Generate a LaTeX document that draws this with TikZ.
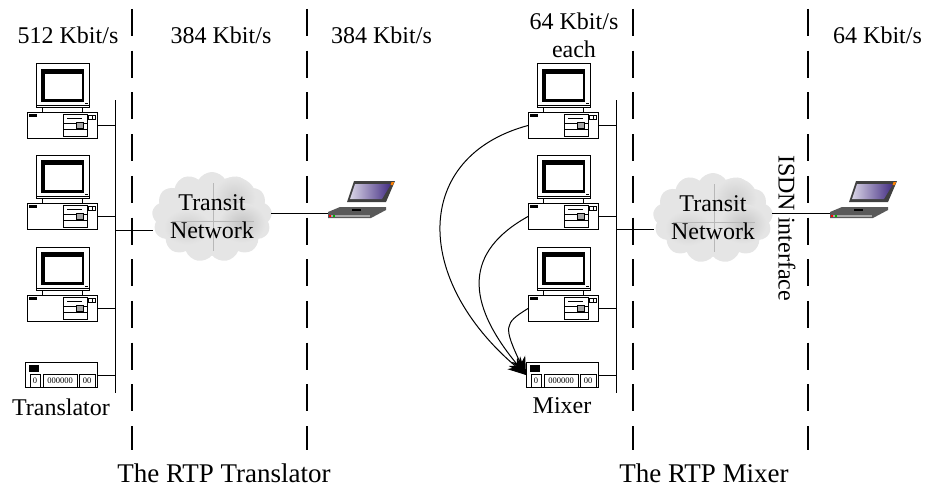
\documentclass[tikz,border=0pt]{standalone}
\usepackage{fontspec}
\setmainfont{Liberation Serif}
\usetikzlibrary{arrows.meta, shapes.symbols}

\tikzset{
  lbl/.style={font=\fontsize{24}{28}\selectfont, align=center, inner sep=0pt},
  caption/.style={font=\fontsize{27}{30}\selectfont, inner sep=0pt},
  digit/.style={font=\fontsize{8.5}{9}\selectfont, inner sep=0pt},
  box/.style={draw, fill=white, line width=1pt, minimum width=70pt, minimum height=26pt, inner sep=0pt},
  wire/.style={line width=1pt},
  sep/.style={line width=2pt, dash pattern=on 27pt off 14.7pt},
  flow/.style={line width=1pt, -{Stealth[length=18pt,width=15pt]}}
}
\definecolor{screenblue}{RGB}{66,44,130}

% desktop machine, #2 #3 = upper left corner of the case
\newcommand{\desktop}[3]{
\begin{scope}[shift={(#2,#3)}]
\draw[line width=1pt, fill=white] (9,-48) rectangle (62,-5);
\fill (13.5,-43) rectangle (57,-10);
\fill[white] (17.5,-38) rectangle (54.5,-13);
\fill (57.5,-9) rectangle (60.5,-8);
\draw[line width=0.6pt] (9,-6.5) -- (62,-6.5);
\draw[line width=1pt] (15,-5) -- (15,0) (55,-5) -- (55,0);
\node[box, anchor=north west] (#1) at (0,0) {};
\fill (2,2) rectangle (10,5);
\draw[line width=0.7pt] (36,2) rectangle (60,24);
\draw[line width=0.7pt] (36,11) -- (60,11) (36,17) -- (60,17);
\draw[line width=1.3pt] (40,6.5) -- (55,6.5);
\draw[line width=0.7pt, fill=black!35] (49,10) rectangle (56,16);
\draw[line width=0.7pt] (61.5,3) rectangle (68,7);
\draw[line width=0.7pt] (65,3) -- (65,7);
\end{scope}
}

% rack unit, #2 #3 = upper left corner
\newcommand{\rackunit}[3]{
\begin{scope}[shift={(#2,#3)}]
\node[box, minimum width=72pt, minimum height=25pt, anchor=north west] (#1) at (0,0) {};
\fill (4,3) rectangle (14,10);
\draw[line width=0.7pt] (5,12) rectangle (15,25);
\draw[line width=0.7pt] (18,12) rectangle (52,25);
\draw[line width=0.7pt] (54,12) rectangle (70,25);
\node[digit] at (10,19) {0};
\node[digit] at (35,19) {000000};
\node[digit] at (62,19) {00};
\end{scope}
}

% notebook, #2 #3 = upper left corner
\newcommand{\notebook}[3]{
\begin{scope}[shift={(#2,#3)}]
\node[inner sep=0pt, minimum size=0pt] (#1) at (2,33) {};
\fill[black!75] (28,1) -- (69,1) -- (60,22) -- (21,22) -- cycle;
\shade[left color=white!80!screenblue, right color=screenblue] (29,4) -- (65,4) -- (56,19) -- (24,19) -- cycle;
\fill[orange] (65.5,2) -- (68,2) -- (67,5) -- (64.5,5) -- cycle;
\fill[black!65] (14,27) -- (60,27) -- (60,30) -- (45,38) -- (2,38) -- (2,32) -- cycle;
\fill[black!35] (3,34.5) -- (44,34.5) -- (44,37) -- (3,37) -- cycle;
\fill[red] (3,35) rectangle (4.5,36.5);
\fill[green!70!black] (7,35) rectangle (8.5,36.5);
\fill (26,29) rectangle (35,31);
\end{scope}
}

% gray cloud with its text, #2 #3 = centre
\newcommand{\transit}[3]{
\node[cloud, cloud puffs=13, cloud puff arc=120, aspect=1.3, minimum width=120pt, minimum height=90pt,
  inner sep=0pt, fill=black!10] (#1) at (#2,#3) {};
\shade[inner color=black!19, outer color=black!10] (#2+22,#3-20) ellipse (22 and 20);
\shade[inner color=black!23, outer color=black!10] (#2+30,#3+6) ellipse (24 and 20);
\shade[inner color=black!19, outer color=black!10] (#2-25,#3+10) ellipse (24 and 18);
\draw[black!28, line width=0.4pt] (#2+1,#3-34) -- (#2+1,#3+34) (#2-40,#3+4) -- (#2+42,#3+4);
\node[lbl] (#1text) at (#2,#3) {Transit\\Network};
}

\begin{document}
\begin{tikzpicture}[x=1pt, y=-1pt]
\useasboundingbox (0,0) rectangle (926,487);

% separators
\foreach \xsep in {132, 307, 633, 808}
  \draw[sep] (\xsep,9) -- (\xsep,450);

% translator side
\coordinate (busAtop) at (115,100);
\coordinate (busAend) at (115,393);
\draw[wire] (busAtop) -- (busAend);
\desktop{pcA}{27}{112}
\desktop{pcB}{27}{203}
\desktop{pcC}{27}{295}
\rackunit{translator}{25}{362}
\transit{cloudA}{212}{217}
\notebook{lapA}{326}{180}
\foreach \nd in {pcA, pcB, pcC, translator}
  \draw[wire] (\nd.east) -- (\nd.east -| busAtop);
\coordinate (tapA) at (115,230);
\draw[wire] (tapA) -- (tapA -| cloudA.west);
\draw[wire] (lapA) -- (lapA -| cloudA.east);

% mixer side
\coordinate (busBtop) at (616,100);
\coordinate (busBend) at (616,393);
\draw[wire] (busBtop) -- (busBend);
\desktop{pcD}{528}{112}
\desktop{pcE}{528}{203}
\desktop{pcF}{528}{295}
\rackunit{mixer}{526}{362}
\transit{cloudB}{713}{218}
\notebook{lapB}{828}{180}
\foreach \nd in {pcD, pcE, pcF, mixer}
  \draw[wire] (\nd.east) -- (\nd.east -| busBtop);
\coordinate (tapB) at (616,229);
\draw[wire] (tapB) -- (tapB -| cloudB.west);
\draw[wire] (lapB) -- (lapB -| cloudB.east);

% streams into the mixer
\draw[flow] (pcD.west) .. controls +(-115,31) and +(-114,-96) .. (mixer.west);
\draw[flow] (pcE.west) .. controls +(-63,35) and +(-62,-74) .. (mixer.west);
\draw[flow] (pcF.west) .. controls +(-24,15) and +(-23,-49) .. (mixer.west);

% rates
\node[lbl] (rateA) at (68,35) {512 Kbit/s};
\node[lbl] (rateB) at (221,35) {384 Kbit/s};
\node[lbl] (rateC) at (381.5,35) {384 Kbit/s};
\node[lbl] (rateD) at (574,35) {64 Kbit/s\\each};
\node[lbl] (rateE) at (877.5,35) {64 Kbit/s};

\node[lbl] (transName) at (61,407) {Translator};
\node[lbl] (mixName) at (562,406) {Mixer};
\node[lbl, rotate=-90] (isdn) at (787,228) {ISDN interface};
\node[caption] (capA) at (224,473) {The RTP Translator};
\node[caption] (capB) at (704,473) {The RTP Mixer};

\end{tikzpicture}
\end{document}
